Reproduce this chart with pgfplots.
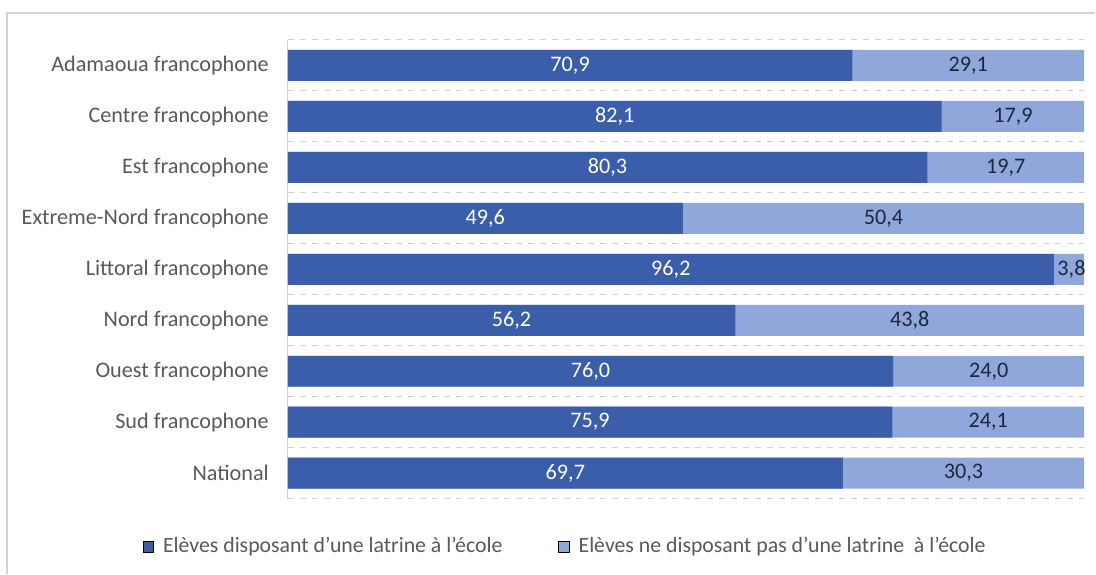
\documentclass[border=0pt]{standalone}
\usepackage{pgfplots}
\pgfplotsset{compat=1.18}
\usepackage{fontspec}
\setmainfont{Carlito}
\definecolor{cdark}{RGB}{59,94,171}
\definecolor{clight}{RGB}{143,167,219}
\definecolor{ctext}{RGB}{89,89,89}
\definecolor{cval}{RGB}{30,38,60}
\definecolor{cgrid}{RGB}{210,210,210}
\begin{document}
\begin{tikzpicture}
% page size 1096x574 px at 0.5pt per px
\path (0pt,0pt) rectangle (548pt,287pt);
\draw[cgrid, line width=0.8pt] (3.5pt,0pt) -- (3.5pt,280.5pt) -- (548pt,280.5pt);
\begin{axis}[
    at={(144pt,37.5pt)}, anchor=south west,
    scale only axis,
    width=398.5pt, height=229.5pt,
    xmin=0, xmax=100,
    ymin=-0.5, ymax=8.5,
    y dir=reverse,
    axis x line=none,
    axis y line*=left,
    y axis line style={cgrid, line width=0.6pt, -},
    ytick={0,...,8},
    yticklabels={Adamaoua francophone, Centre francophone, Est francophone,
        Extreme-Nord francophone, Littoral francophone, Nord francophone,
        Ouest francophone, Sud francophone, National},
    yticklabel style={font=\fontsize{11.1}{13}\selectfont, text=ctext, xshift=-6pt},
    major tick length=0pt,
    minor ytick={-0.5,0.5,...,8.5},
    minor tick length=0pt,
    ymajorgrids=false,
    yminorgrids=true,
    minor grid style={cgrid, dashed, line width=0.5pt},
    bar width=15.5pt,
    legend image code/.code={\fill[#1] (0pt,-2.6pt) rectangle (5.2pt,2.6pt);},
    legend columns=2,
    legend style={draw=none, fill=none, at={(-0.19,-0.105)}, anchor=west,
        font=\fontsize{10.9}{13}\selectfont, text=ctext,
        /tikz/every odd column/.append style={column sep=2.5pt},
        /tikz/every even column/.append style={column sep=26pt}},
]
% light bars span the full 100 and sit behind the dark ones
\addplot[xbar, bar shift=0pt, fill=clight, draw=none, forget plot] coordinates {
    (100,0) (100,1) (100,2) (100,3) (100,4) (100,5) (100,6) (100,7) (100,8)};
\addplot[xbar, bar shift=0pt, fill=cdark, draw=none, forget plot] coordinates {
    (70.9,0) (82.1,1) (80.3,2) (49.6,3) (96.2,4) (56.2,5) (76.0,6) (75.9,7) (69.7,8)};
% value labels at the middle of each segment
\addplot[draw=none, mark=none, forget plot, point meta=explicit symbolic,
    nodes near coords, nodes near coords align={center},
    every node near coord/.append style={font=\fontsize{11.1}{13}\selectfont, text=white, anchor=center}]
    coordinates {
    (35.45,0) [70,9] (41.05,1) [82,1] (40.15,2) [80,3] (24.8,3) [49,6]
    (48.1,4) [96,2] (28.1,5) [56,2] (38.0,6) [76,0] (37.95,7) [75,9] (34.85,8) [69,7]};
\addplot[draw=none, mark=none, forget plot, point meta=explicit symbolic,
    nodes near coords, nodes near coords align={center},
    every node near coord/.append style={font=\fontsize{11.1}{13}\selectfont, text=cval, anchor=center}]
    coordinates {
    (85.45,0) [29,1] (91.05,1) [17,9] (90.15,2) [19,7] (74.8,3) [50,4]
    (98.4,4) [3,8] (78.1,5) [43,8] (88.0,6) [24,0] (87.95,7) [24,1] (84.85,8) [30,3]};
\addlegendimage{fill=cdark}
\addlegendentry{Elèves disposant d'une latrine à l'école}
\addlegendimage{fill=clight}
\addlegendentry{Elèves ne disposant pas d'une latrine~ à l'école}
\end{axis}
\end{tikzpicture}
\end{document}
